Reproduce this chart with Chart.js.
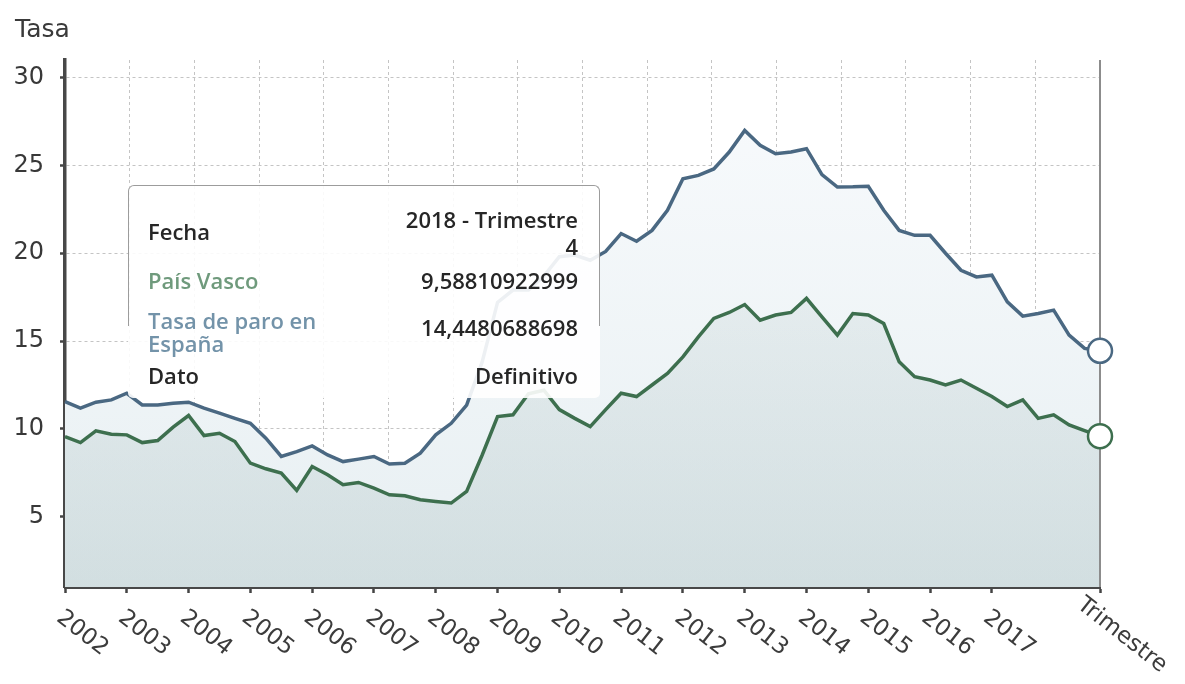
<!DOCTYPE html>
<html><head><meta charset="utf-8">
<script src="https://cdn.jsdelivr.net/npm/chart.js@4.4.1/dist/chart.umd.min.js"></script>
<style>
html,body{margin:0;padding:0;background:#fff;}
#wrap{position:relative;width:1185px;height:684px;overflow:hidden;}
#c{position:absolute;left:0;top:0;}
#title{position:absolute;left:15px;top:16px;font-family:"DejaVu Sans",sans-serif;font-size:25px;line-height:25px;color:#3a3a3a;}
#tipbg{position:absolute;left:128px;top:185px;width:472px;height:213px;background:rgba(255,255,255,0.9);border-radius:5px;}
#tipborder{position:absolute;left:128px;top:185px;width:470px;height:140px;border:1.5px solid #9c9c9c;border-bottom:none;border-radius:6px 6px 0 0;}
.t{position:absolute;font-family:"Open Sans",sans-serif;font-size:22px;font-weight:600;line-height:22px;white-space:nowrap;color:#262626;}
.l{left:148px;}
.r{right:607px;text-align:right;}
</style>
</head><body>
<div id="wrap">
<canvas id="c" width="1185" height="684"></canvas>
<div id="title">Tasa</div>
<div id="tipbg"></div>
<div id="tipborder"></div>
<div class="t l" style="top:220px">Fecha</div>
<div class="t r" style="top:208px" id="d1">2018 - Trimestre</div>
<div class="t r" style="top:235px" id="d2">4</div>
<div class="t l" style="top:269px;color:#6f9a7c" id="n1">País Vasco</div>
<div class="t r" style="top:269px" id="v1"></div>
<div class="t l" style="top:309px;color:#7393a9">Tasa de paro en</div>
<div class="t l" style="top:332px;color:#7393a9">España</div>
<div class="t r" style="top:316px" id="v2"></div>
<div class="t l" style="top:364px">Dato</div>
<div class="t r" style="top:364px">Definitivo</div>
</div>
<script>
// ---- data ----
const quarters = [
 '2002-T1','2002-T2','2002-T3','2002-T4','2003-T1','2003-T2','2003-T3','2003-T4',
 '2004-T1','2004-T2','2004-T3','2004-T4','2005-T1','2005-T2','2005-T3','2005-T4',
 '2006-T1','2006-T2','2006-T3','2006-T4','2007-T1','2007-T2','2007-T3','2007-T4',
 '2008-T1','2008-T2','2008-T3','2008-T4','2009-T1','2009-T2','2009-T3','2009-T4',
 '2010-T1','2010-T2','2010-T3','2010-T4','2011-T1','2011-T2','2011-T3','2011-T4',
 '2012-T1','2012-T2','2012-T3','2012-T4','2013-T1','2013-T2','2013-T3','2013-T4',
 '2014-T1','2014-T2','2014-T3','2014-T4','2015-T1','2015-T2','2015-T3','2015-T4',
 '2016-T1','2016-T2','2016-T3','2016-T4','2017-T1','2017-T2','2017-T3','2017-T4',
 '2018-T1','2018-T2','2018-T3','2018-T4'
];
const yearLabels = ['2002','2003','2004','2005','2006','2007','2008','2009','2010','2011','2012','2013','2014','2015','2016','2017'];
const endLabel = 'Trimestre';
const yTicks = [5,10,15,20,25,30];

const paisVasco = [
 9.56, 9.22, 9.89, 9.70,   9.66, 9.22, 9.34, 10.10,
 10.76, 9.62, 9.75, 9.28,  8.05, 7.73, 7.48, 6.50,
 7.86, 7.39, 6.82, 6.95,   6.63, 6.25, 6.19, 5.97,
 5.87, 5.78, 6.44, 8.50,   10.70, 10.80, 12.00, 12.20,
 11.10, 10.60, 10.13, 11.10, 12.03, 11.84, 12.50, 13.16,
 14.10, 15.24, 16.29, 16.63, 17.08, 16.19, 16.48, 16.63,
 17.43, 16.38, 15.34, 16.57, 16.48, 16.00, 13.82, 12.97,
 12.78, 12.50, 12.78, 12.31, 11.84, 11.27, 11.65, 10.60,
 10.80, 10.23, 9.90, 9.58810922999
];
const espana = [
 11.55, 11.18, 11.52, 11.65, 12.03, 11.36, 11.36, 11.46,
 11.52, 11.18, 10.90, 10.60, 10.32, 9.47, 8.43, 8.71,
 9.03, 8.52, 8.14, 8.28,   8.43, 8.00, 8.05, 8.62,
 9.66, 10.32, 11.36, 13.80, 17.20, 17.90, 17.90, 18.70,
 19.80, 19.90, 19.60, 20.10, 21.12, 20.68, 21.30, 22.44,
 24.24, 24.43, 24.80, 25.76, 26.99, 26.14, 25.66, 25.76,
 25.95, 24.48, 23.77, 23.78, 23.81, 22.45, 21.30, 21.02,
 21.02, 20.00, 19.03, 18.65, 18.75, 17.23, 16.42, 16.57,
 16.76, 15.34, 14.58, 14.4480688698
];

const last = quarters.length - 1;
document.getElementById('v1').textContent = String(paisVasco[last]).replace('.', ',');
document.getElementById('v2').textContent = String(espana[last]).replace('.', ',');

function grad(chart, stops) {
  const a = chart.chartArea;
  if (!a) return 'transparent';
  const g = chart.ctx.createLinearGradient(0, a.top, 0, a.bottom);
  g.addColorStop(0, stops[0]); g.addColorStop(1, stops[1]);
  return g;
}

const crosshair = {
  id: 'crosshair',
  beforeDatasetsDraw(chart) {
    const sx = chart.scales.x, a = chart.chartArea, ctx = chart.ctx;
    const x = sx.getPixelForValue(last);
    ctx.save();
    ctx.strokeStyle = '#8c8c8c'; ctx.lineWidth = 2;
    ctx.beginPath(); ctx.moveTo(x, a.top); ctx.lineTo(x, a.bottom); ctx.stroke();
    ctx.restore();
  }
};

const xLabels = {
  id: 'xLabels',
  afterDraw(chart) {
    const sx = chart.scales.x, ctx = chart.ctx, bottom = chart.chartArea.bottom;
    ctx.save();
    ctx.font = '23px "DejaVu Sans"';
    ctx.fillStyle = '#3c3c3c';
    ctx.textAlign = 'left'; ctx.textBaseline = 'alphabetic';
    sx.ticks.forEach(t => {
      const x = sx.getPixelForValue(t.value);
      const isLast = t.value === last;
      const label = isLast ? endLabel : quarters[t.value].slice(0, 4);
      ctx.save();
      if (isLast) ctx.translate(x - 24, bottom + 20);
      else ctx.translate(x - 9.5, bottom + 33);
      ctx.rotate(38 * Math.PI / 180);
      ctx.fillText(label, 0, 0);
      ctx.restore();
    });
    ctx.restore();
  }
};

new Chart(document.getElementById('c'), {
  type: 'line',
  data: {
    labels: quarters,
    datasets: [
      {
        label: 'País Vasco',
        data: paisVasco,
        borderColor: '#3d6f4e',
        borderWidth: 3.5,
        fill: 'origin',
        backgroundColor: (c) => grad(c.chart, ['rgba(150,175,175,0.03)', 'rgba(150,175,175,0.26)']),
        pointRadius: (c) => c.dataIndex === last ? 12 : 0,
        pointBackgroundColor: '#fff',
        pointBorderColor: '#3d6f4e',
        pointBorderWidth: 2.5,
        tension: 0
      },
      {
        label: 'Tasa de paro en España',
        data: espana,
        borderColor: '#4a6882',
        borderWidth: 3.5,
        fill: 'origin',
        backgroundColor: (c) => grad(c.chart, ['#f9fbfd', '#e7eff2']),
        pointRadius: (c) => c.dataIndex === last ? 12 : 0,
        pointBackgroundColor: '#fff',
        pointBorderColor: '#4a6882',
        pointBorderWidth: 2.5,
        tension: 0
      }
    ]
  },
  options: {
    responsive: false,
    animation: false,
    devicePixelRatio: 1,
    layout: { padding: { top: 60, right: 85, left: 0, bottom: 0 } },
    plugins: {
      legend: { display: false },
      tooltip: { enabled: false },
      filler: { drawTime: 'beforeDatasetsDraw' }
    },
    scales: {
      x: {
        type: 'category',
        offset: false,
        afterBuildTicks: (s) => {
          s.ticks = s.ticks.filter(t => {
            const q = quarters[t.value];
            return t.value === last || (q.endsWith('T1') && yearLabels.includes(q.slice(0, 4)));
          });
        },
        afterFit: (s) => { s.height = 97; },
        ticks: { display: false, autoSkip: false },
        grid: { display: true, drawOnChartArea: false, drawTicks: true, tickLength: 6, tickColor: '#444', tickWidth: 2.5, tickBorderDash: [] },
        border: { display: true, color: '#484848', width: 3 }
      },
      x2: {
        type: 'linear',
        position: 'bottom',
        min: 0,
        max: last,
        afterBuildTicks: (s) => {
          const n = 16, arr = [];
          for (let k = 1; k < n; k++) arr.push({ value: last * k / n });
          s.ticks = arr;
        },
        afterFit: (s) => { s.height = 0; },
        ticks: { display: false },
        grid: { display: true, drawOnChartArea: true, drawTicks: false, color: '#c4c4c4', lineWidth: 1 },
        border: { display: false, dash: [3, 3] }
      },
      y: {
        type: 'linear',
        min: 1,
        max: 31,
        afterBuildTicks: (s) => { s.ticks = yTicks.map(v => ({ value: v })); },
        afterFit: (s) => { s.width = 65; },
        ticks: { font: { family: 'DejaVu Sans', size: 24 }, color: '#383838', padding: 16 },
        grid: { color: '#c4c4c4', lineWidth: 1, tickLength: 5, tickColor: '#444', tickWidth: 2.5, tickBorderDash: [] },
        border: { display: true, color: '#484848', width: 3.5, dash: [3, 3] }
      }
    }
  },
  plugins: [crosshair, xLabels]
});
</script>
</body></html>
